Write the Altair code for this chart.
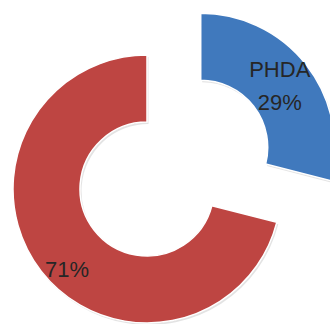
import altair as alt
import pandas as pd

labels = ["PHDA", "Other"]
values = [29, 71]
texts = ["PHDA\n29%", "71%"]
explode = [1, 0]
colors = ["#4079BD", "#BE4542"]

df = pd.DataFrame({"label": labels, "value": values, "text": texts,
                   "explode": explode, "order": list(range(len(labels)))})

CX, CY = 147, 189
R, R2 = 134, 67
EXPL = 68
LH = 33

base = (
    alt.Chart(df)
    .transform_joinaggregate(total="sum(value)")
    .transform_window(cum="sum(value)", sort=[alt.SortField("order")])
    .transform_calculate(
        t0="(datum.cum - datum.value) / datum.total * 2 * PI",
        t1="datum.cum / datum.total * 2 * PI",
    )
    .transform_calculate(tm="(datum.t0 + datum.t1) / 2")
    .transform_calculate(
        cx=f"{CX} + datum.explode * {EXPL} * sin(datum.tm)",
        cy=f"{CY} - datum.explode * {EXPL} * cos(datum.tm)",
    )
    .transform_calculate(
        sx="datum.cx + 1.5",
        sy="datum.cy + 2",
        la="datum.tm + (datum.explode ? 0 : -0.133)",
        lr="datum.explode ? 100 : 114",
        nl="split(datum.text, '\\n').length",
    )
    .transform_calculate(
        lx="datum.cx + datum.lr * sin(datum.la)",
        ly=f"datum.cy - datum.lr * cos(datum.la) - (datum.nl - 1) * {LH} / 2",
    )
)

shadow = base.mark_arc(radius=R, radius2=R2, color="#808080", opacity=0.22).encode(
    x=alt.X("sx:Q", scale=None, axis=None),
    y=alt.Y("sy:Q", scale=None, axis=None),
    theta=alt.Theta("t0:Q", scale=None, stack=None),
    theta2="t1:Q",
)

arcs = base.mark_arc(radius=R, radius2=R2, stroke="white", strokeWidth=1.5).encode(
    x=alt.X("cx:Q", scale=None, axis=None),
    y=alt.Y("cy:Q", scale=None, axis=None),
    theta=alt.Theta("t0:Q", scale=None, stack=None),
    theta2="t1:Q",
    color=alt.Color("label:N", scale=alt.Scale(domain=labels, range=colors), legend=None),
)

text = base.mark_text(font="Liberation Sans", fontSize=22, color="#262626",
                      align="center", baseline="middle", lineBreak="\n",
                      lineHeight=LH).encode(
    x=alt.X("lx:Q", scale=None, axis=None),
    y=alt.Y("ly:Q", scale=None, axis=None),
    text="text:N",
)

chart = (
    alt.layer(shadow, arcs, text)
    .properties(width=330, height=324, padding=0, autosize=alt.AutoSizeParams(type="none"),
                background="white")
    .configure_view(stroke=None)
)

chart.save("out.html", embed_options={"renderer": "svg", "actions": False})
